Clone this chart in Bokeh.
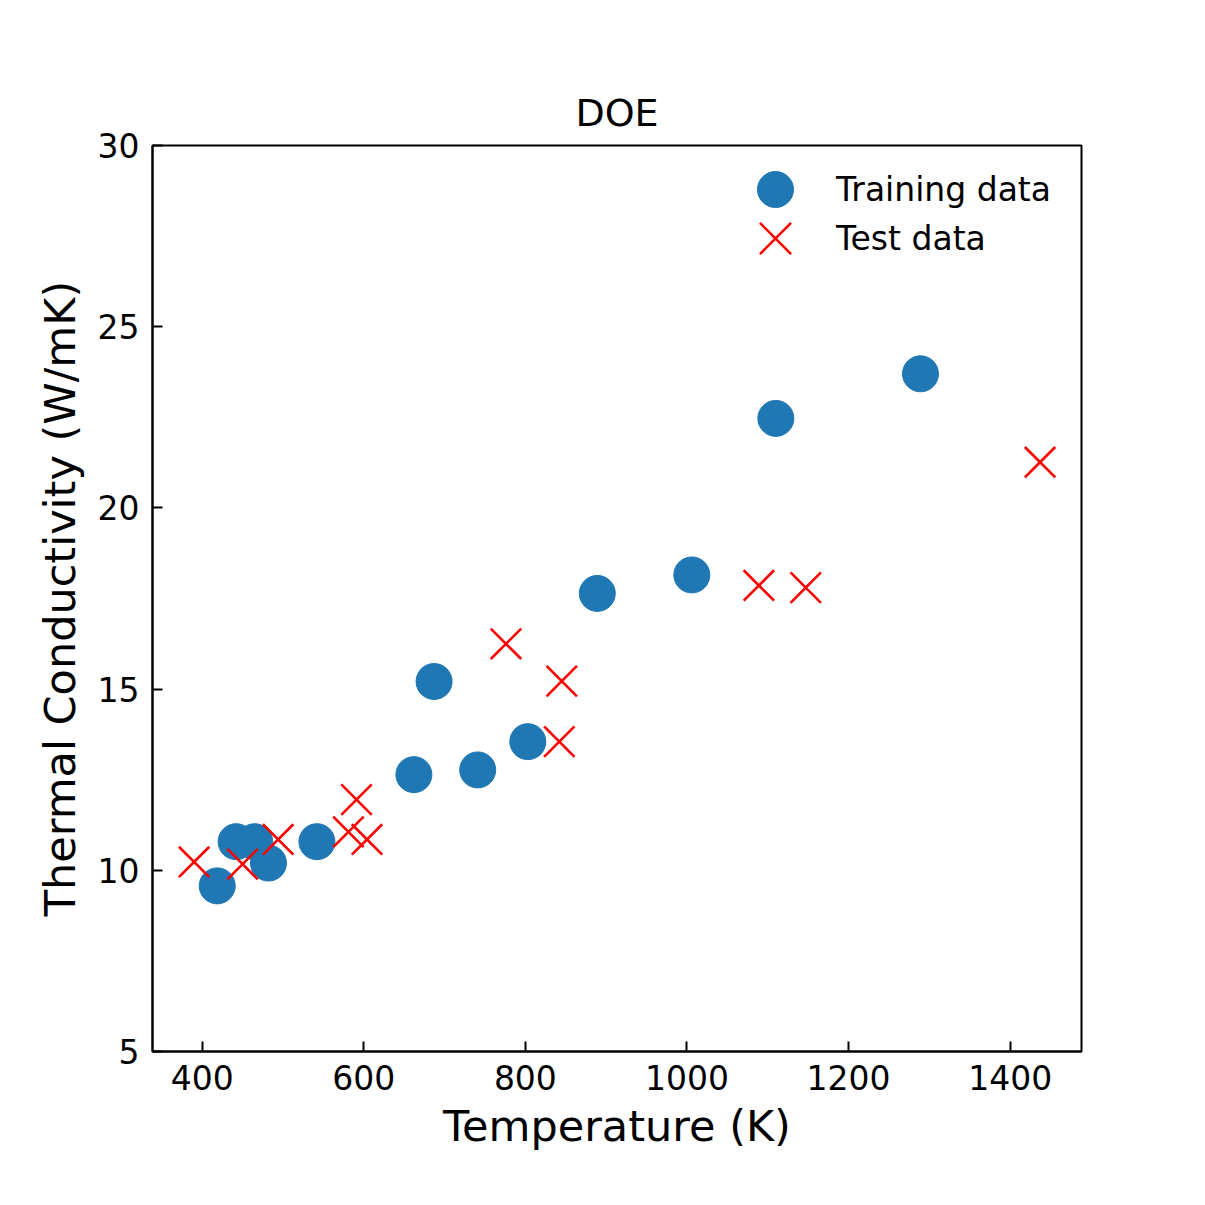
from bokeh.plotting import figure
from bokeh.models import Range1d, FixedTicker, Legend, LegendItem, ColumnDataSource
from bokeh.embed import file_html
from bokeh.resources import INLINE

# Training data (circles)
train_T = [418.6, 442, 465, 482, 542, 662, 687, 741, 803, 889, 1006, 1110, 1289]
train_k = [9.57, 10.79, 10.79, 10.2, 10.79, 12.64, 15.21, 12.77, 13.55, 17.64, 18.15, 22.47, 23.7]

# Test data (crosses)
test_T = [390, 450, 494, 581, 591, 604, 776, 842, 845, 1089, 1147, 1437]
test_k = [10.23, 10.17, 10.85, 11.06, 11.95, 10.85, 16.25, 13.55, 15.22, 17.86, 17.8, 21.26]

x_ticks = [400, 600, 800, 1000, 1200, 1400]
y_ticks = [5, 10, 15, 20, 25, 30]

FONT = "DejaVu Sans"

p = figure(frame_width=929, frame_height=906,
           x_range=Range1d(338.5, 1488.3), y_range=Range1d(5, 30),
           output_backend="svg", toolbar_location=None,
           min_border_left=152, min_border_top=145,
           min_border_right=100, min_border_bottom=120,
           background_fill_color="white", border_fill_color="white")

p.title.text = "DOE"
p.title.align = "center"
p.title.text_font = FONT
p.title.text_font_size = "38px"
p.title.text_font_style = "normal"
p.title.text_color = "black"
p.title.standoff = 22

p.grid.visible = False
p.outline_line_color = "black"
p.outline_line_width = 2
p.outline_line_alpha = 1

for ax in (p.xaxis[0], p.yaxis[0]):
    ax.major_tick_in = 10
    ax.major_tick_out = 0
    ax.minor_tick_in = 0
    ax.minor_tick_out = 0
    ax.axis_line_width = 2
    ax.major_tick_line_width = 2
    ax.axis_line_color = "black"
    ax.major_tick_line_color = "black"
    ax.major_label_text_font = FONT
    ax.major_label_text_font_size = "33px"
    ax.major_label_text_color = "black"
    ax.axis_label_text_font = FONT
    ax.axis_label_text_font_size = "43px"
    ax.axis_label_text_font_style = "normal"
    ax.axis_label_text_color = "black"
    ax.major_label_standoff = 13

p.xaxis.ticker = FixedTicker(ticks=x_ticks)
p.yaxis.ticker = FixedTicker(ticks=y_ticks)
p.xaxis.axis_label = "Temperature (K)"
p.yaxis.axis_label = "Thermal Conductivity (W/mK)"
p.xaxis.axis_label_standoff = 8
p.yaxis.axis_label_standoff = 10

src_train = ColumnDataSource(dict(x=train_T, y=train_k))
src_test = ColumnDataSource(dict(x=test_T, y=test_k))

r_train = p.scatter("x", "y", source=src_train, marker="circle", size=36,
                    fill_color="#1f77b4", line_color="#1f77b4", line_width=1)
r_test = p.scatter("x", "y", source=src_test, marker="x", size=43,
                   line_color="red", line_width=2.6)

common = dict(padding=0, margin=0, label_text_font=FONT,
              label_text_font_size="33px", label_text_color="black",
              border_line_color=None, background_fill_alpha=0)

leg1 = Legend(items=[LegendItem(label="Training data", renderers=[r_train])],
              location=(578, 817), glyph_width=90, glyph_height=90,
              label_standoff=16, **common)
leg2 = Legend(items=[LegendItem(label="Test data", renderers=[r_test])],
              location=(568, 758), glyph_width=110, glyph_height=110,
              label_standoff=6, **common)
p.add_layout(leg1)
p.add_layout(leg2)

open("out.html", "w").write(file_html(p, INLINE))
